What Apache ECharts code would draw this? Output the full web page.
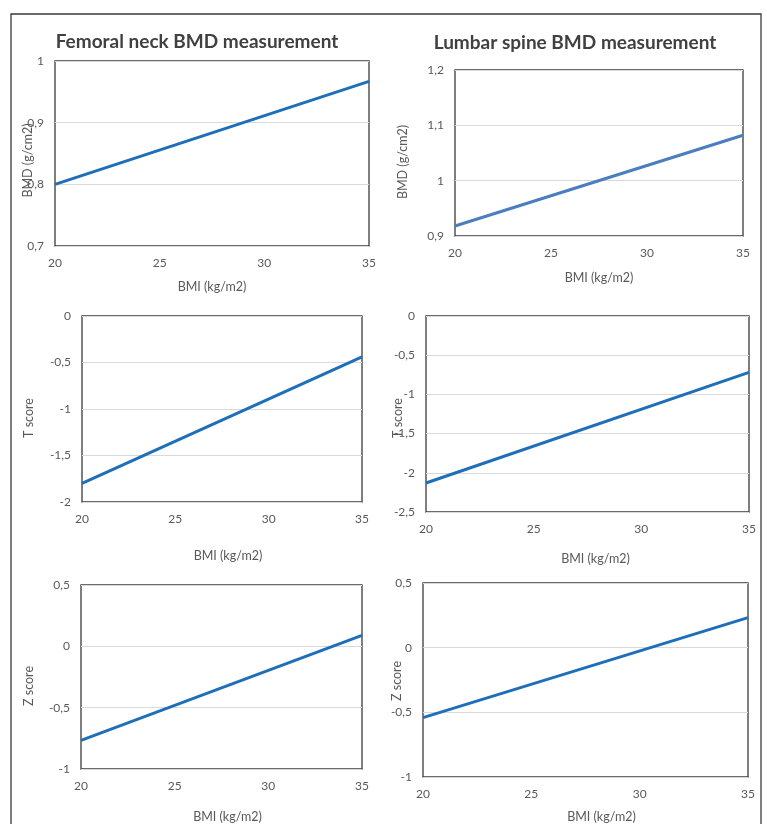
<!DOCTYPE html>
<html>
<head>
<meta charset="utf-8">
<script src="https://cdn.jsdelivr.net/npm/echarts@6/dist/echarts.min.js"></script>
<style>html,body{margin:0;padding:0;background:#fff}#c{width:767px;height:824px}</style>
</head>
<body>
<div id="c"></div>
<script>
// ---- data ----
const bmiValues = [20, 35];
const femoralBMD = [0.80, 0.967];
const lumbarBMD = [0.918, 1.082];
const femoralT = [-1.80, -0.44];
const lumbarT = [-2.13, -0.72];
const femoralZ = [-0.766, 0.089];
const lumbarZ = [-0.541, 0.232];
const titles = ['Femoral neck BMD measurement', 'Lumbar spine BMD measurement'];
const xName = 'BMI (kg/m2)';
const yNames = ['BMD (g/cm2)', 'BMD (g/cm2)', 'T score', 'T score', 'Z score', 'Z score'];

// ---- layout ----
const panels = [
  {l:55, t:61, r:369, b:246, ymin:0.7, ymax:1.0, step:0.1, xGap:34, yGap:21, xShift:0, yShift:7, data:femoralBMD, color:'#1f6fb8'},
  {l:455, t:70, r:743, b:236, ymin:0.9, ymax:1.2, step:0.1, xGap:35, yGap:46, xShift:0, yShift:9, data:lumbarBMD, color:'#4a7ebf'},
  {l:82, t:316, r:362, b:502, ymin:-2, ymax:0, step:0.5, xGap:47, yGap:47, xShift:6, yShift:9, data:femoralT, color:'#1f6fb8'},
  {l:426, t:316, r:749, b:512, ymin:-2.5, ymax:0, step:0.5, xGap:40, yGap:22, xShift:8, yShift:4, data:lumbarT, color:'#1f6fb8'},
  {l:81, t:585, r:362, b:771, ymin:-1, ymax:0.5, step:0.5, xGap:41, yGap:46, xShift:6, yShift:9, data:femoralZ, color:'#1f6fb8'},
  {l:423, t:583, r:748, b:779, ymin:-1, ymax:0.5, step:0.5, xGap:33, yGap:20, xShift:16, yShift:1, data:lumbarZ, color:'#1f6fb8'}
];
const FONT = 'Lato';
const fmt = v => String(+(+v).toFixed(2)).replace('.', ',');

const grid = [], xAxis = [], yAxis = [], series = [];
panels.forEach((p, i) => {
  grid.push({left:p.l, top:p.t, width:p.r - p.l, height:p.b - p.t, show:true,
    borderColor:'#3a3a3a', borderWidth:1.3, backgroundColor:'transparent', containLabel:false});
  xAxis.push({gridIndex:i, type:'value', min:20, max:35, interval:5,
    name:xName, nameLocation:'middle', nameGap:p.xGap, nameMoveOverlap:false,
    nameTextStyle:{color:'#595959', fontSize:12.5, fontFamily:FONT, padding:[0, 0, 0, 2 * p.xShift]},
    axisLine:{show:false}, axisTick:{show:false}, splitLine:{show:false},
    axisLabel:{color:'#595959', fontSize:12, fontFamily:FONT, margin:11, formatter:fmt}});
  yAxis.push({gridIndex:i, type:'value', min:p.ymin, max:p.ymax, interval:p.step,
    name:yNames[i], nameLocation:'middle', nameGap:p.yGap, nameMoveOverlap:false,
    nameTextStyle:{color:'#595959', fontSize:12.5, fontFamily:FONT, padding:[0, 2 * p.yShift, 0, 0]},
    axisLine:{show:false}, axisTick:{show:false},
    splitLine:{show:true, lineStyle:{color:'#d9d9d9', width:1}},
    axisLabel:{color:'#595959', fontSize:12, fontFamily:FONT, margin:11, formatter:fmt}});
  series.push({type:'line', xAxisIndex:i, yAxisIndex:i, showSymbol:false, symbol:'none',
    data:bmiValues.map((x, k) => [x, p.data[k]]),
    lineStyle:{color:p.color, width:3}, silent:true, animation:false});
});

const chart = echarts.init(document.getElementById('c'), null, {renderer:'canvas'});
chart.setOption({
  animation:false,
  backgroundColor:'#ffffff',
  title:[
    {text:titles[0], left:192, top:27, textAlign:'center',
      textStyle:{fontFamily:FONT, fontWeight:'bold', fontSize:19, color:'#404040'}},
    {text:titles[1], left:570, top:28, textAlign:'center',
      textStyle:{fontFamily:FONT, fontWeight:'bold', fontSize:19, color:'#404040'}}
  ],
  graphic:[
    {type:'rect', shape:{x:11, y:14, width:750, height:830},
      style:{fill:'none', stroke:'#3a3a3a', lineWidth:1.3}, silent:true}
  ],
  grid, xAxis, yAxis, series
});
</script>
</body>
</html>
